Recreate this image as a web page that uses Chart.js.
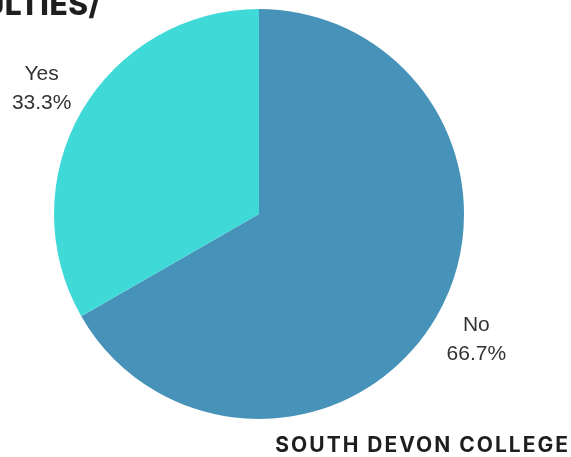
<!DOCTYPE html>
<html>
<head>
<meta charset="utf-8">
<script src="https://cdn.jsdelivr.net/npm/chart.js@4/dist/chart.umd.min.js"></script>
<style>
  html, body { margin: 0; padding: 0; background: #ffffff; }
  #wrap { width: 571px; height: 457px; position: relative; }
</style>
</head>
<body>
<div id="wrap"><canvas id="c" width="571" height="457"></canvas></div>
<script>
// Survey answers and their shares (percent)
const categories = ['No', 'Yes'];
const shares = [66.7, 33.3];
const sliceColors = ['#4792b8', '#3fd9d8'];

const headingText = 'DIFFICULTIES/';
const footerText = 'SOUTH DEVON COLLEGE';

// Labels placed outside each slice, plus the heading and footer text
const outsideLabels = {
  id: 'outsideLabels',
  afterDatasetsDraw(chart) {
    const ctx = chart.ctx;
    const meta = chart.getDatasetMeta(0);
    ctx.save();
    ctx.fillStyle = '#333333';
    ctx.font = '21px "Liberation Sans", Arial, sans-serif';
    ctx.textAlign = 'center';
    ctx.textBaseline = 'middle';
    meta.data.forEach((arc, i) => {
      const p = arc.getProps(['x', 'y', 'startAngle', 'endAngle', 'outerRadius'], true);
      const mid = (p.startAngle + p.endAngle) / 2;
      const r = p.outerRadius * 1.225;
      const x = p.x + Math.cos(mid) * r;
      const y = p.y + Math.sin(mid) * r;
      ctx.fillText(categories[i], x, y - 14.5);
      ctx.fillText(shares[i].toFixed(1) + '%', x, y + 14.5);
    });
    ctx.fillStyle = '#1e1e1e';
    ctx.font = '800 30px Inter, "Liberation Sans", sans-serif';
    ctx.textAlign = 'right';
    ctx.textBaseline = 'alphabetic';
    ctx.letterSpacing = '0.5px';
    ctx.fillText(headingText, 101, 15);
    ctx.font = 'bold 21px Inter, "Liberation Sans", sans-serif';
    ctx.letterSpacing = '2px';
    ctx.fillText(footerText, 570, 452);
    ctx.restore();
  }
};

new Chart(document.getElementById('c'), {
  type: 'pie',
  data: {
    labels: categories,
    datasets: [{
      data: shares,
      backgroundColor: sliceColors,
      borderWidth: 0
    }]
  },
  options: {
    responsive: false,
    animation: false,
    layout: { padding: { top: 9, bottom: 38, left: 54, right: 107 } },
    plugins: {
      legend: { display: false },
      tooltip: { enabled: false },
      title: { display: false }
    }
  },
  plugins: [outsideLabels]
});
</script>
</body>
</html>
